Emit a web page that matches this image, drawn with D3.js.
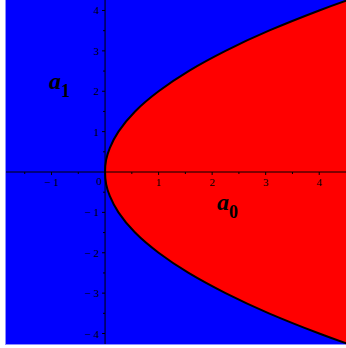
<!DOCTYPE html>
<html>
<head>
<meta charset="utf-8">
<script src="https://cdn.jsdelivr.net/npm/d3@7"></script>
<style>
  body { margin: 0; background: #fff; }
  text { font-family: "Liberation Serif", "DejaVu Serif", serif; }
</style>
</head>
<body>
<div id="plot"></div>
<script>
const width = 346;
const height = 348;

// boundary of the red region (a1 -> a0)
const a1Values = [-4.26, -4, -3.5, -3, -2.5, -2, -1.5, -1, -0.6, -0.3, 0, 0.3, 0.6, 1, 1.5, 2, 2.5, 3, 3.5, 4, 4.26];
const a0Values = [4.54, 4, 3.06, 2.25, 1.56, 1, 0.56, 0.25, 0.09, 0.02, 0, 0.02, 0.09, 0.25, 0.56, 1, 1.56, 2.25, 3.06, 4, 4.54];

const xTicks = [-1.5, -1, -0.5, 0.5, 1, 1.5, 2, 2.5, 3, 3.5, 4];
const xLabels = [-1, 1, 2, 3, 4];
const yTicks = [-4, -3.5, -3, -2.5, -2, -1.5, -1, -0.5, 0.5, 1, 1.5, 2, 2.5, 3, 3.5, 4];
const yLabels = [-4, -3, -2, -1, 1, 2, 3, 4];

const xDomain = [-1.85, 4.5];
const yDomain = [-4.26, 4.26];

const plotLeft = 6, plotRight = 346, plotTop = 0, plotBottom = 344;

const svg = d3.select("#plot").append("svg").attr("width", width).attr("height", height);

const x = d3.scaleLinear().domain(xDomain).range([plotLeft, plotRight]);
const y = d3.scaleLinear().domain(yDomain).range([plotBottom, plotTop]);

const pts = a1Values.map((v, i) => ({ a1: v, a0: a0Values[i] }));

// blue background
svg.append("rect")
   .attr("x", plotLeft).attr("y", plotTop)
   .attr("width", plotRight - plotLeft).attr("height", plotBottom - plotTop)
   .attr("fill", "#0000ff");

// red region to the right of the parabola
svg.append("path")
   .datum(pts)
   .attr("fill", "#ff0000")
   .attr("d", d3.area()
        .curve(d3.curveNatural)
        .y(d => y(d.a1))
        .x0(d => x(d.a0))
        .x1(() => x(xDomain[1]) + 2));

// frame edges
svg.append("line").attr("x1", plotLeft - 0.5).attr("x2", plotLeft - 0.5).attr("y1", plotTop).attr("y2", plotBottom + 1)
   .attr("stroke", "#8c8cff").attr("stroke-width", 1);
svg.append("line").attr("x1", plotLeft - 1).attr("x2", plotRight).attr("y1", plotBottom + 0.5).attr("y2", plotBottom + 0.5)
   .attr("stroke", "#8c8cff").attr("stroke-width", 1);

// axes through origin
const xAxisG = svg.append("g").attr("transform", `translate(0, ${y(0)})`);
xAxisG.append("line").attr("x1", plotLeft).attr("x2", plotRight).attr("stroke", "#000").attr("stroke-width", 1);
xAxisG.selectAll(".xt").data(xTicks).join("line")
   .attr("x1", d => x(d)).attr("x2", d => x(d))
   .attr("y1", 0).attr("y2", d => Number.isInteger(d) ? 3 : 2)
   .attr("stroke", "#000");
xAxisG.selectAll(".xl").data(xLabels).join("text")
   .attr("x", d => x(d)).attr("y", 14)
   .attr("text-anchor", "middle").attr("font-size", 11)
   .text(d => d < 0 ? "\u2212 " + Math.abs(d) : d);
xAxisG.append("text").attr("x", x(0) - 6).attr("y", 13)
   .attr("text-anchor", "middle").attr("font-size", 11).text("0");

const yAxisG = svg.append("g").attr("transform", `translate(${x(0)}, 0)`);
yAxisG.append("line").attr("y1", plotTop).attr("y2", plotBottom).attr("stroke", "#000").attr("stroke-width", 1);
yAxisG.selectAll(".yt").data(yTicks).join("line")
   .attr("y1", d => y(d)).attr("y2", d => y(d))
   .attr("x1", 0).attr("x2", d => Number.isInteger(d) ? -3 : -2)
   .attr("stroke", "#000");
yAxisG.selectAll(".yl").data(yLabels).join("text")
   .attr("x", -6).attr("y", d => y(d) + 4)
   .attr("text-anchor", "end").attr("font-size", 11)
   .text(d => d < 0 ? "\u2212 " + Math.abs(d) : d);

// boundary curve
svg.append("path")
   .datum(pts)
   .attr("fill", "none")
   .attr("stroke", "#000")
   .attr("stroke-width", 2)
   .attr("d", d3.line().curve(d3.curveNatural).x(d => x(d.a0)).y(d => y(d.a1)));

// axis names
function axisName(px, py, sub) {
  const t = svg.append("text").attr("x", px).attr("y", py)
     .attr("font-weight", "bold").attr("font-size", 24);
  t.append("tspan").attr("font-style", "italic").text("a");
  t.append("tspan").attr("dy", 8).attr("font-size", 18).text(sub);
}
axisName(49, 89, "1");
axisName(217, 210, "0");
</script>
</body>
</html>
